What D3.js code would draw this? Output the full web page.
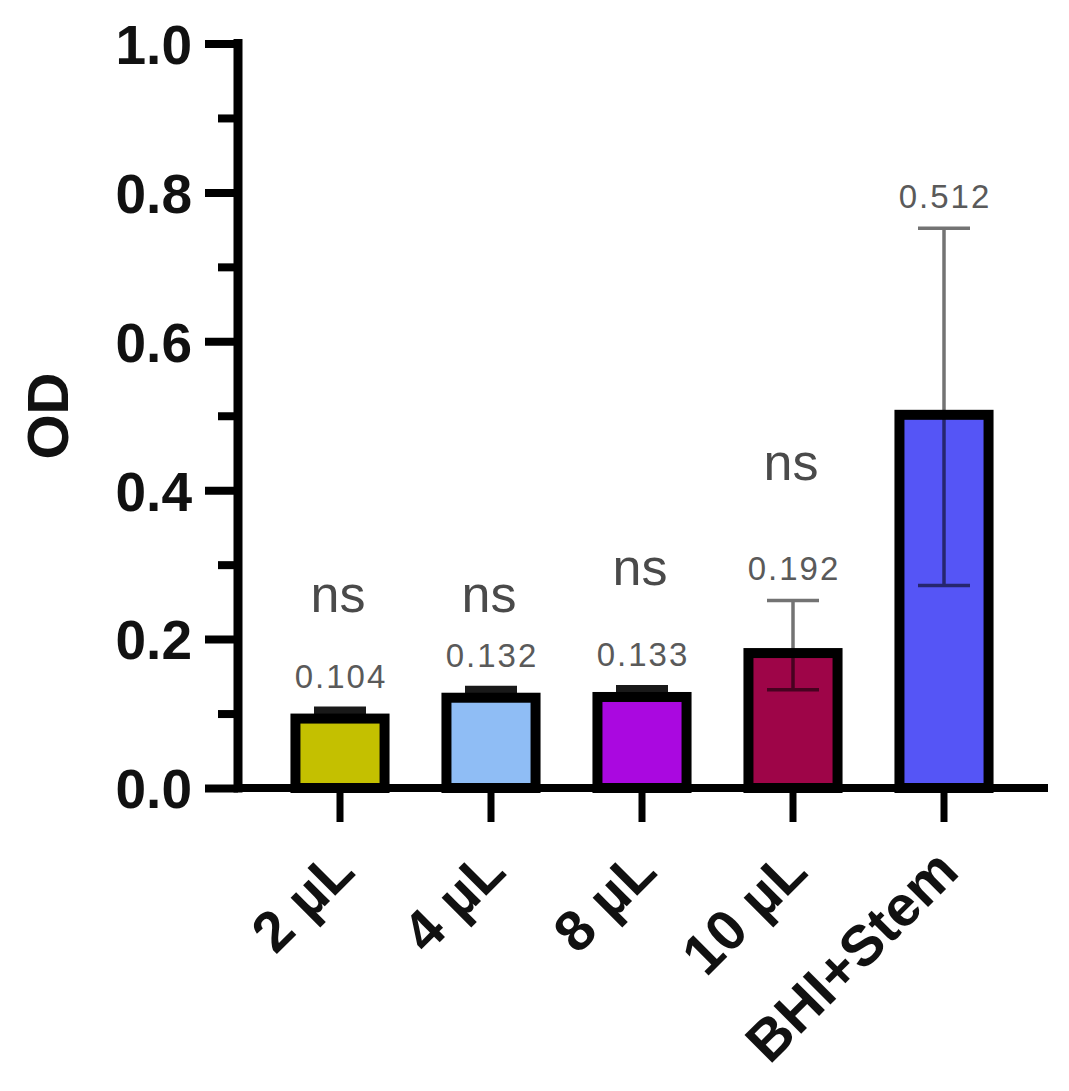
<!DOCTYPE html>
<html><head><meta charset="utf-8">
<script src="https://cdn.jsdelivr.net/npm/d3@7"></script>
<style>body{margin:0;background:#fff}</style></head>
<body><svg id="chart" width="1069" height="1091"></svg>
<script>
const categories = ["2 µL","4 µL","8 µL","10 µL","BHI+Stem"];
const means = [0.104,0.132,0.133,0.192,0.512];
const sds = [0.002,0.002,0.002,0.06,0.24];
const valueLabels = ["0.104","0.132","0.133","0.192","0.512"];
const sigLabels = ["ns","ns","ns","ns",""];
const sigLevels = [0.236,0.236,0.273,0.414,null];
const barColors = ["#c4c000","#8fbdf5","#aa08e0","#9e0548","#5555f6"];
const yTicksMajor = [0,0.2,0.4,0.6,0.8,1.0];
const yTicksMinor = [0.1,0.3,0.5,0.7,0.9];
const yTitle = "OD";

const data = categories.map((c,i)=>({c, m:means[i], sd:sds[i], lab:valueLabels[i], sig:sigLabels[i], sigL:sigLevels[i], col:barColors[i]}));

const svg = d3.select("#chart");
svg.append("rect").attr("width",1069).attr("height",1091).attr("fill","#fff");

const axisX = 238;
const y = d3.scaleLinear().domain([0,1]).range([788,43.5]);
const x = d3.scaleBand().domain(categories).range([264.5,1019.5]);
const barW = x.bandwidth()*0.59;
const cx = d => x(d) + x.bandwidth()/2;
const font = "'Liberation Sans', Arial, sans-serif";

// bars
svg.append("g").selectAll("rect").data(data).join("rect")
  .attr("x", d=>cx(d.c)-barW/2)
  .attr("y", d=>y(d.m)+8)
  .attr("width", barW)
  .attr("height", d=>y(0)-(y(d.m)+8))
  .attr("fill", d=>d.col)
  .attr("stroke","#000")
  .attr("stroke-width",10);

// error bars
const capW = 26;
svg.append("g").selectAll("path").data(data).join("path")
  .attr("d", d=>{
    const c = cx(d.c), t = y(d.m+d.sd), b = y(d.m-d.sd);
    return `M${c-capW},${t}H${c+capW}M${c},${t}V${b}M${c-capW},${b}H${c+capW}`;
  })
  .attr("fill","none")
  .attr("stroke","#000")
  .attr("stroke-opacity",d=>d.sd<0.01?0.9:0.55)
  .attr("stroke-width",d=>d.sd<0.01?5:3.5);

// value labels
svg.append("g").selectAll("text").data(data).join("text")
  .attr("x", d=>cx(d.c)+1)
  .attr("y", d=>y(d.m+Math.max(d.sd,0.004))-20)
  .attr("text-anchor","middle")
  .attr("font-family",font)
  .attr("font-size",33)
  .attr("letter-spacing",2)
  .attr("fill","#5a5a5a")
  .text(d=>d.lab);

// significance labels
svg.append("g").selectAll("text").data(data.filter(d=>d.sig)).join("text")
  .attr("x", d=>cx(d.c)-2)
  .attr("y", d=>y(d.sigL))
  .attr("text-anchor","middle")
  .attr("font-family",font)
  .attr("font-size",52)
  .attr("fill","#4a4a4a")
  .text(d=>d.sig);

// y axis
const gy = svg.append("g").attr("transform",`translate(${axisX},0)`);
gy.call(d3.axisLeft(y).tickValues(yTicksMajor).tickSize(33).tickPadding(13).tickFormat(d3.format(".1f")));
gy.select(".domain").remove();
gy.selectAll(".tick line").attr("stroke","#000").attr("stroke-width",8);
gy.selectAll(".tick text").attr("font-family",font).attr("font-weight","bold")
  .attr("font-size",55).attr("fill","#111").attr("dy","0.36em");
const gyMinor = svg.append("g").attr("transform",`translate(${axisX},0)`);
gyMinor.call(d3.axisLeft(y).tickValues(yTicksMinor).tickSize(20).tickFormat(""));
gyMinor.select(".domain").remove();
gyMinor.selectAll(".tick line").attr("stroke","#000").attr("stroke-width",8);
svg.append("line").attr("x1",axisX).attr("x2",axisX).attr("y1",y(0)).attr("y2",y(1))
  .attr("stroke","#000").attr("stroke-width",9).attr("stroke-linecap","square");

// x axis
const gx = svg.append("g").attr("transform",`translate(0,${y(0)})`);
gx.call(d3.axisBottom(x).tickSize(34).tickFormat(""));
gx.select(".domain").remove();
gx.selectAll(".tick line").attr("stroke","#000").attr("stroke-width",7);
svg.append("line").attr("x1",axisX).attr("x2",1048).attr("y1",y(0)).attr("y2",y(0))
  .attr("stroke","#000").attr("stroke-width",8);

svg.append("g").selectAll("text").data(categories).join("text")
  .attr("transform", d=>`translate(${cx(d)+17},874) rotate(-45)`)
  .attr("text-anchor","end")
  .attr("font-family",font)
  .attr("font-weight","bold")
  .attr("font-size",57)
  .attr("fill","#111")
  .text(d=>d);

// y title
svg.append("text")
  .attr("transform","translate(68,416) rotate(-90)")
  .attr("text-anchor","middle")
  .attr("font-family",font)
  .attr("font-weight","bold")
  .attr("font-size",58)
  .attr("fill","#111")
  .text(yTitle);
</script></body></html>
